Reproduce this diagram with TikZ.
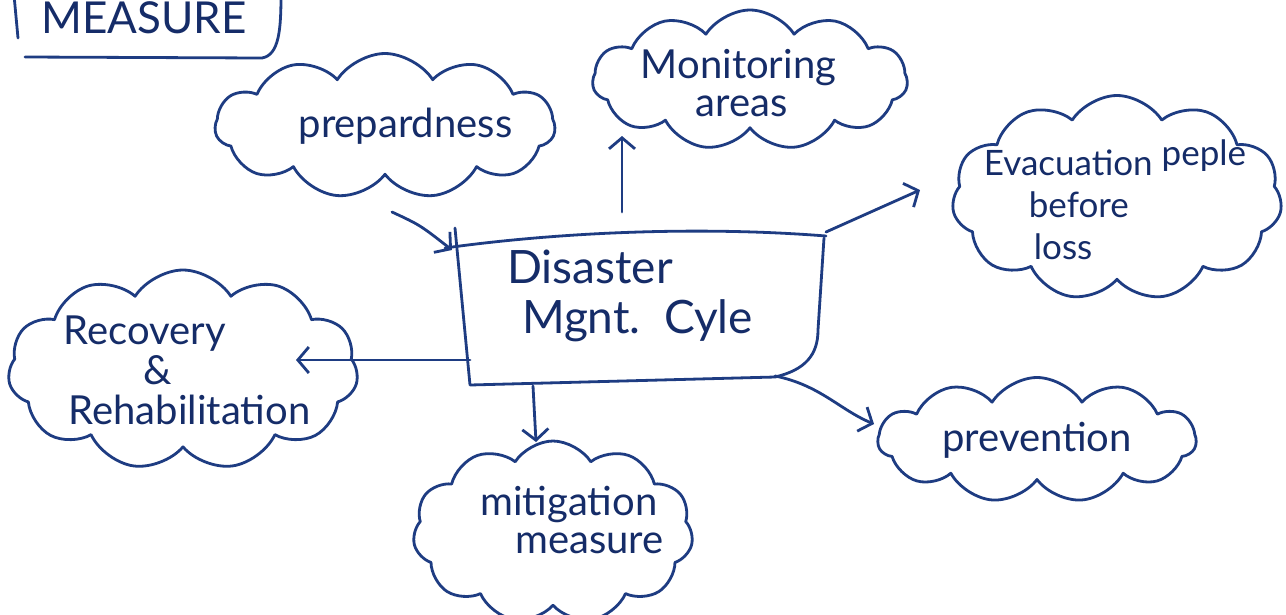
\documentclass[tikz,border=0pt]{standalone}
\usepackage{fontspec}
\setmainfont{Lato}
\usetikzlibrary{shapes.symbols,arrows.meta}
\definecolor{ink}{HTML}{1E3C82}
\definecolor{inkdark}{HTML}{152C68}
\tikzset{
  hand/.style={draw=ink, line width=2.8pt, line cap=round, line join=round},
  cloudbox/.style={cloud, hand, cloud puffs=11, cloud puff arc=115, cloud ignores aspect,
     inner sep=0pt},
  label/.style={text=inkdark, inner sep=0pt, align=left, font=\fontsize{40}{46}\selectfont},
  arr/.style={hand, -{Straight Barb[length=11pt,width=26pt,line width=2.8pt]}},
}
\begin{document}
\begin{tikzpicture}[x=1pt,y=-1pt]
\fill[white] (0,0) rectangle (1286,614);
\useasboundingbox (0,0) rectangle (1286,614);

% MEASURE box (partly cut off at top)
\node[label, font=\fontsize{44}{50}\selectfont] (measure) at (144,18) {MEASURE};
\draw[hand] (14,-5) -- (18,38);
\draw[hand] (25,57) -- (262,58) .. controls (279,55) and (281,30) .. (281,-5);

% Central box
\node[label, font=\fontsize{46}{50}\selectfont] (box) at (630,296)
  {Disaster\\\hspace*{15pt}Mgnt.\ \ Cyle};
\draw[hand] (455,228) -- (470,385) -- (775,377)
  .. controls (805,370) and (818,355) .. (818,330) -- (824,238);
\draw[hand] (445,248) .. controls (560,232) and (700,226) .. (826,236);

% clouds
\node[cloudbox, minimum width=340pt, minimum height=145pt] (prep) at (385,126) {};
\node[cloudbox, minimum width=315pt, minimum height=140pt] (mon) at (750,80) {};
\node[cloudbox, minimum width=330pt, minimum height=205pt] (evac) at (1117,198) {};
\node[cloudbox, minimum width=350pt, minimum height=200pt] (rec) at (183,370) {};
\node[cloudbox, minimum width=280pt, minimum height=182pt] (mit) at (553,532) {};
\node[cloudbox, minimum width=318pt, minimum height=125pt] (prev) at (1037,440) {};

% cloud texts
\node[label] (prep-t) at ([xshift=-2pt]prep.center) {\hspace*{45pt}prepardness};
\node[label] (mon-t) at ([xshift=6pt,yshift=-3pt]mon.center)
  {Monitoring\hspace*{35pt}\\[-8pt]\hspace*{55pt}areas};
\node[label, font=\fontsize{35}{42}\selectfont] (evac-t) at ([xshift=-2pt,yshift=-2pt]evac.center)
  {Evacuation \raisebox{10pt}{peple}\\\hspace*{45pt}before\\\hspace*{50pt}loss};
\node[label] (rec-t) at ([xshift=4pt]rec.center)
  {Recovery\\[-6pt]\hspace*{80pt}\&\\[-6pt]\hspace*{5pt}Rehabilitation};
\node[label] (mit-t) at ([xshift=4pt,yshift=12pt]mit.center)
  {\hspace*{30pt}mitigation\\[-8pt]\hspace*{65pt}measure};
\node[label] (prev-t) at (prev) {prevention};

% connector end points
\coordinate (pA) at (392,212); \coordinate (pB) at (452,250);
\coordinate (mA) at (622,212); \coordinate (mB) at (622,136);
\coordinate (eA) at (826,232); \coordinate (eB) at (920,190);
\coordinate (rA) at (470,360); \coordinate (rB) at (296,360);
\coordinate (gA) at (533,386); \coordinate (gB) at (536,442);
\coordinate (vA) at (775,376); \coordinate (vB) at (874,424);

\draw[arr] (pA) .. controls (420,225) .. (pB);
\draw[arr] (mA) -- (mB);
\draw[arr] (eA) -- (eB);
\draw[arr] (rA) -- (rB);
\draw[arr] (gA) -- (gB);
\draw[arr] (vA) .. controls (820,385) and (840,410) .. (vB);
\end{tikzpicture}
\end{document}
